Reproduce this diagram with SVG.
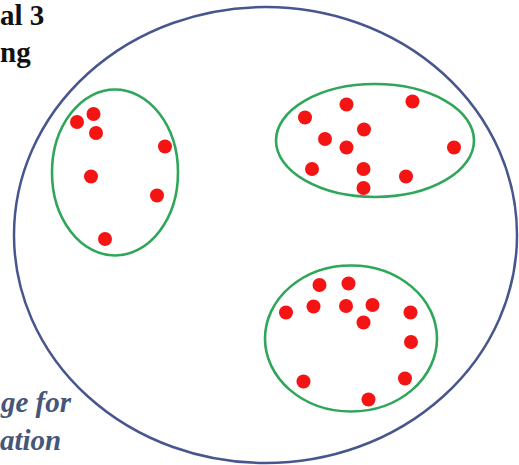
<svg xmlns="http://www.w3.org/2000/svg" width="519" height="465" viewBox="0 0 519 465">
<style>
.big{fill:none;stroke:#48568e;stroke-width:2.5}
.cl{fill:none;stroke:#2fa65a;stroke-width:2.6}
.d{fill:#f41414}
.t1{font-family:"Liberation Serif","Times New Roman","DejaVu Serif",serif;font-weight:bold;font-size:29px;fill:#111}
.t2{font-family:"Liberation Serif","Times New Roman","DejaVu Serif",serif;font-weight:bold;font-style:italic;font-size:29px;fill:#46567a}
</style>
<rect width="519" height="465" fill="#fff"/>
<text class="t1" x="0" y="25">al 3</text>
<text class="t1" x="0" y="62">ng</text>
<text class="t2" x="1" y="412">ge for</text>
<text class="t2" x="0" y="450">ation</text>
<g id="universe"><ellipse class="big" cx="265.5" cy="235" rx="251.5" ry="228"/></g>
<g id="cluster1">
<ellipse class="cl" cx="115" cy="172.5" rx="63" ry="83"/>
<circle class="d" cx="77" cy="122" r="7"/><circle class="d" cx="93.5" cy="114" r="7"/><circle class="d" cx="96" cy="133" r="7"/><circle class="d" cx="165" cy="146.5" r="7"/><circle class="d" cx="91" cy="176.5" r="7"/><circle class="d" cx="157" cy="195.5" r="7"/><circle class="d" cx="105" cy="239" r="7"/>
</g>
<g id="cluster2">
<ellipse class="cl" cx="375" cy="140.5" rx="99" ry="56.5"/>
<circle class="d" cx="305" cy="117.5" r="7"/><circle class="d" cx="346.5" cy="104.5" r="7"/><circle class="d" cx="412.5" cy="101.5" r="7"/><circle class="d" cx="364" cy="129.5" r="7"/><circle class="d" cx="325" cy="139" r="7"/><circle class="d" cx="346.5" cy="147.5" r="7"/><circle class="d" cx="454" cy="147.5" r="7"/><circle class="d" cx="312" cy="169" r="7"/><circle class="d" cx="363.5" cy="169" r="7"/><circle class="d" cx="406" cy="176.5" r="7"/><circle class="d" cx="363.5" cy="188" r="7"/>
</g>
<g id="cluster3">
<ellipse class="cl" cx="351" cy="338.5" rx="86" ry="73"/>
<circle class="d" cx="319.5" cy="285" r="7"/><circle class="d" cx="348.5" cy="283.5" r="7"/><circle class="d" cx="286" cy="312.5" r="7"/><circle class="d" cx="313.5" cy="306.5" r="7"/><circle class="d" cx="346" cy="306" r="7"/><circle class="d" cx="372.5" cy="305" r="7"/><circle class="d" cx="363.5" cy="322.5" r="7"/><circle class="d" cx="410.5" cy="312.5" r="7"/><circle class="d" cx="411" cy="342" r="7"/><circle class="d" cx="303.5" cy="381.5" r="7"/><circle class="d" cx="405" cy="378.5" r="7"/><circle class="d" cx="368.5" cy="399.5" r="7"/>
</g>
</svg>
